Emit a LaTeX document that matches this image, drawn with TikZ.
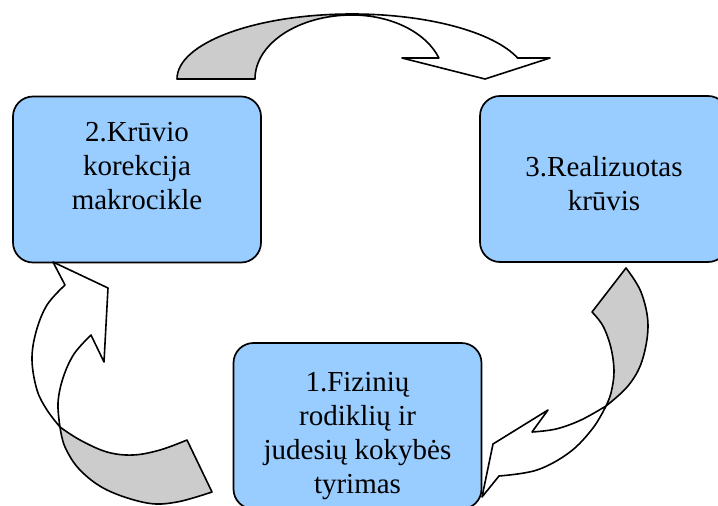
\documentclass[tikz,border=0pt]{standalone}
\usepackage{fontspec}
\setmainfont{Liberation Serif}
\newfontfamily\stagefont{Liberation Serif}
\definecolor{boxblue}{HTML}{99CCFF}
\definecolor{ribgrey}{HTML}{CCCCCC}
\tikzset{
  stagebox/.style={draw=black, line width=1.7pt, fill=boxblue, rounded corners=20pt,
    minimum width=248pt, minimum height=166pt, inner sep=0pt},
  stagetext/.style={align=center, inner sep=0pt, font=\stagefont\fontsize{29}{34}\selectfont},
  ribback/.style={draw=black, line width=1.6pt, fill=ribgrey, line join=round},
  ribfront/.style={draw=black, line width=1.6pt, fill=white, line join=round},
}
\begin{document}
\begin{tikzpicture}[x=1pt,y=-1pt]
\clip (0,0) rectangle (718,506);
\fill[white] (0,0) rectangle (718,506);

% stage boxes
\node[stagebox] (b2) at (137,179.5) {};
\node[stagebox] (b3) at (604,179) {};
\node[stagebox] (b1) at (357.5,426) {};

\node[stagetext] (t2) at (b2.center |- 0,166) {2.Krūvio\\korekcija\\makrocikle};
\node[stagetext] (t3) at (b3.center |- 0,184) {3.Realizuotas\\krūvis};
\node[stagetext] (t1) at (b1.center |- 0,436) {1.Fizinių\\rodiklių ir\\judesių kokybės\\tyrimas};

% top ribbon arrow (2 -> 3)
\filldraw[ribback] (177,79) arc[start angle=180, end angle=270, x radius=175, y radius=65]
  -- (352,15) arc[start angle=270, end angle=180, x radius=97, y radius=64] -- cycle;
\filldraw[ribfront] (352,14) arc[start angle=270, end angle=341.15, x radius=175, y radius=65]
  -- (550,58) -- (485,79) -- (402,58) -- (438.9,58)
  arc[start angle=340.85, end angle=270, x radius=92, y radius=64] -- cycle;

% right ribbon arrow (3 -> 1)
\filldraw[ribback] (626,268) -- (592,312)
  -- plot[smooth,tension=0.6] coordinates {(592,312) (603,326) (611,348) (614,372) (611,393) (606,406)}
  -- plot[smooth,tension=0.6] coordinates {(606,406) (628,386) (642,361) (648,325) (641,292) (626,268)}
  -- cycle;
\filldraw[ribfront] (606,406)
  -- plot[smooth,tension=0.6] coordinates {(606,406) (581,420) (556,429) (532,432)}
  -- (548,410) -- (493,444) -- (482,497) -- (499,476)
  -- plot[smooth,tension=0.6] coordinates {(499,476) (537,470) (570,452) (593,428) (606,406)}
  -- cycle;

% left ribbon arrow (1 -> 2)
\filldraw[ribback] (60,427)
  -- plot[smooth,tension=0.6] coordinates {(60,427) (80,440) (107,452) (133,455) (160,450) (187,440)}
  -- (212,492)
  -- plot[smooth,tension=0.6] coordinates {(212,492) (177,502) (147,503) (107,490) (80,470) (65,447) (60,427)}
  -- cycle;
\filldraw[ribfront] (60,427)
  -- plot[smooth,tension=0.6] coordinates {(60,427) (47,410) (37,390) (32,360) (36,332) (47,305) (65,285)}
  -- (53,262) -- (108,288) -- (104,362) -- (91,335)
  -- plot[smooth,tension=0.6] coordinates {(91,335) (74,354) (63,378) (58,403) (60,427)}
  -- cycle;
\end{tikzpicture}
\end{document}
